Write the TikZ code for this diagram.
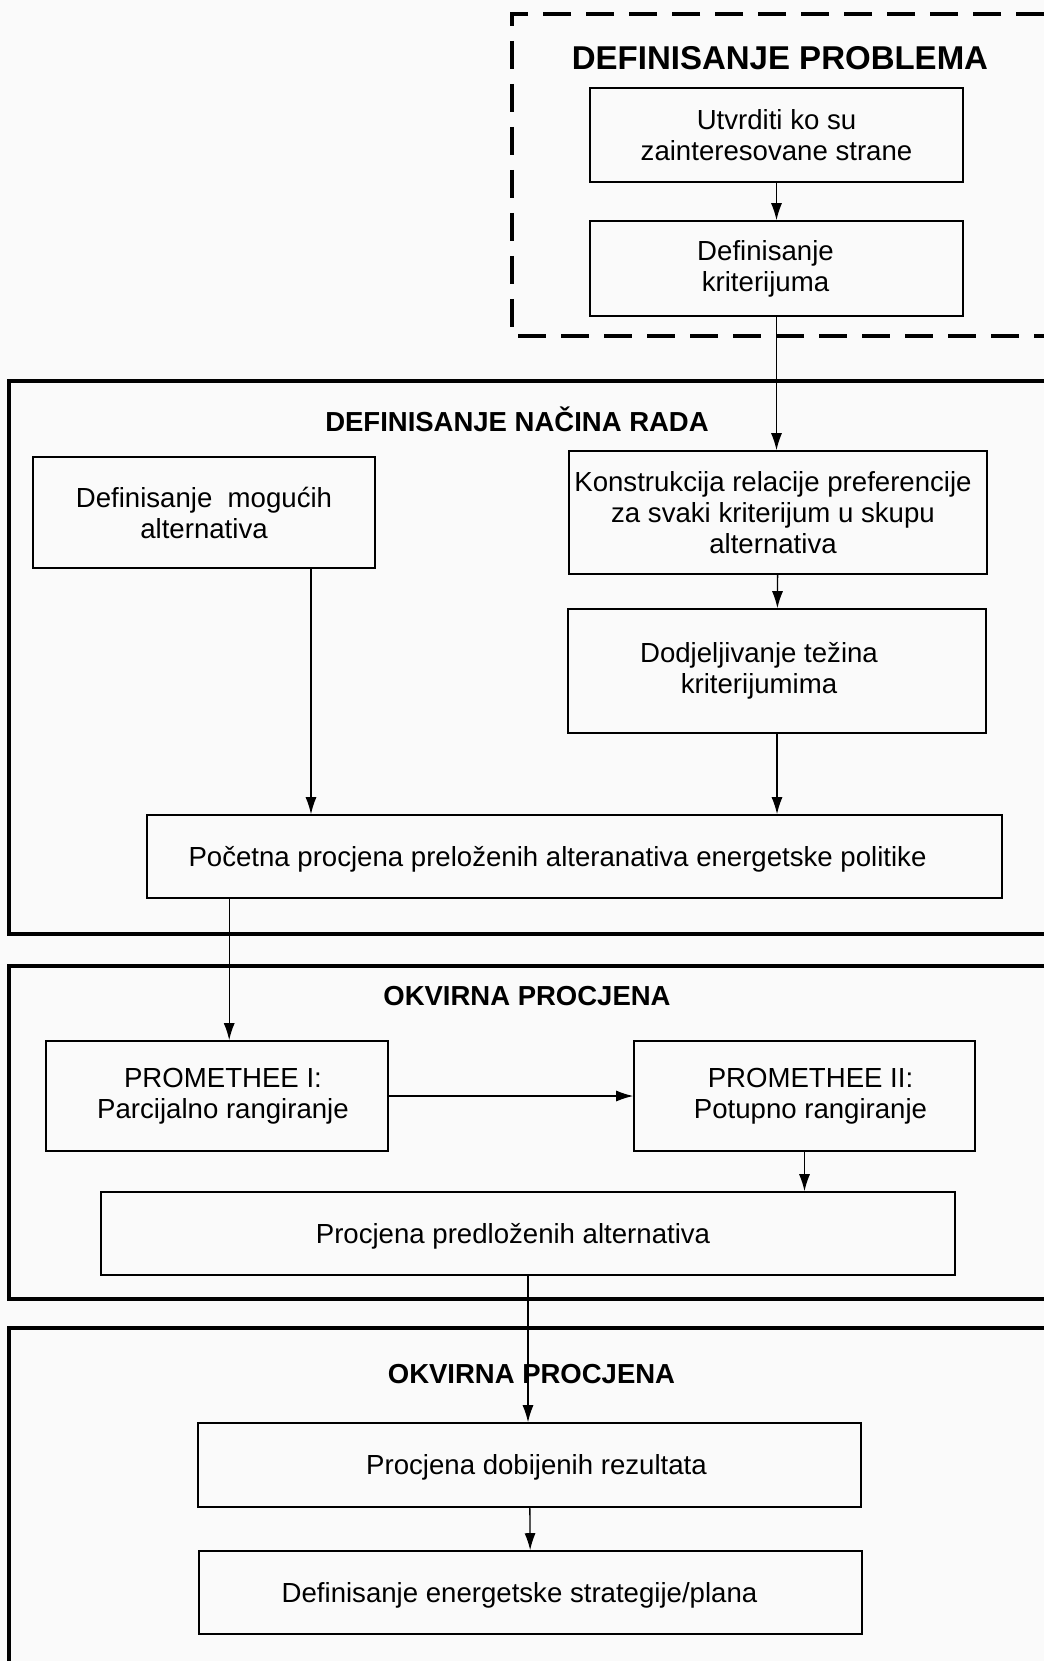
\documentclass[tikz,border=0pt]{standalone}
\usepackage{fontspec}
\setmainfont{Liberation Sans}
\usetikzlibrary{arrows.meta,calc}
\begin{document}
\begin{tikzpicture}[x=1pt,y=-1pt,
  frame/.style={line width=4pt},
  dashframe/.style={line width=4pt,dash pattern=on 28pt off 15pt},
  bigtitle/.style={font=\fontsize{33}{38}\selectfont\bfseries},
  sectitle/.style={font=\fontsize{27.5}{32}\selectfont\bfseries},
  txt/.style={align=center,inner sep=0pt,font=\fontsize{27.6}{31}\selectfont},
  box/.style={draw,line width=1.6pt,txt},
  arr/.style={line width=1.3pt,-{Latex[length=17pt,width=11pt]}}]
\useasboundingbox (0,0) rectangle (1044,1661);
\fill[black!2] (0,0) rectangle (1044,1661);
\draw[dashframe] (1044,14)--(512,14)--(512,336)--(1044,336);
\draw[frame] (1044,381)--(8.5,381)--(8.5,934)--(1044,934);
\draw[frame] (1044,966)--(8.5,966)--(8.5,1299)--(1044,1299);
\draw[frame] (1044,1328)--(8.5,1328)--(8.5,1670);
\node[bigtitle] (problem) at (780,58) {DEFINISANJE PROBLEMA};
\node[sectitle] (nacin) at (517,419) {DEFINISANJE NAČINA RADA};
\node[sectitle] (okvir1) at (527,996) {OKVIRNA PROCJENA};
\node[sectitle] (okvir2) at (531.5,1374) {OKVIRNA PROCJENA};
\node[box,minimum width=373pt,minimum height=94pt] (strane) at (776.5,135) {Utvrditi ko su\\zainteresovane strane};
\node[box,minimum width=373pt,minimum height=95pt] (kriteriji) at (776.5,268.5) {};
\node[txt] at ($(kriteriji)+(-11,0)$) {Definisanje\\kriterijuma};
\node[box,minimum width=342pt,minimum height=111pt] (alternative) at (204,512.5) {Definisanje\ \ mogućih\\alternativa};
\node[box,minimum width=418pt,minimum height=123pt] (relacija) at (778,512.5) {};
\node[txt] at ($(relacija)+(-5,0)$) {Konstrukcija relacije preferencije\\za svaki kriterijum u skupu\\alternativa};
\node[box,minimum width=418pt,minimum height=124pt] (tezine) at (777,671) {};
\node[txt] at ($(tezine)+(-18,0)$) {Dodjeljivanje težina\\kriterijumima};
\node[box,minimum width=855pt,minimum height=83pt] (pocetna) at (574.5,856.5) {};
\node[txt] at ($(pocetna)+(-17,3)$) {Početna procjena preloženih alteranativa energetske politike};
\node[box,minimum width=342pt,minimum height=110pt] (prom1) at (217,1096) {};
\node[txt] at ($(prom1)+(6,0)$) {PROMETHEE I:\\Parcijalno rangiranje};
\node[box,minimum width=341pt,minimum height=110pt] (prom2) at (804.5,1096) {};
\node[txt] at ($(prom2)+(6,0)$) {PROMETHEE II:\\Potupno rangiranje};
\node[box,minimum width=854pt,minimum height=83pt] (predlozene) at (528,1233.5) {};
\node[txt] at ($(predlozene)+(-15,3)$) {Procjena predloženih alternativa};
\node[box,minimum width=663pt,minimum height=84pt] (rezultati) at (529.5,1465) {};
\node[txt] at ($(rezultati)+(7,2)$) {Procjena dobijenih rezultata};
\node[box,minimum width=663pt,minimum height=83pt] (strategija) at (530.5,1592.5) {};
\node[txt] at ($(strategija)+(-11,3)$) {Definisanje energetske strategije/plana};
\coordinate (altout) at ($(alternative.south)+(107,0)$);
\coordinate (pocout) at ($(pocetna.south west)+(83,0)$);
\draw[arr] (strane)--(kriteriji);
\draw[arr] (kriteriji.south)--(kriteriji.south |- relacija.north);
\draw[arr] (relacija)--(tezine);
\draw[arr] (altout)--(altout |- pocetna.north);
\draw[arr] (tezine.south)--(tezine.south |- pocetna.north);
\draw[arr] (pocout)--(pocout |- prom1.north);
\draw[arr] (prom1)--(prom2);
\draw[arr] (prom2.south)--(prom2.south |- predlozene.north);
\draw[arr] (predlozene.south)--(predlozene.south |- rezultati.north);
\draw[arr] (rezultati)--(strategija);
\end{tikzpicture}
\end{document}
